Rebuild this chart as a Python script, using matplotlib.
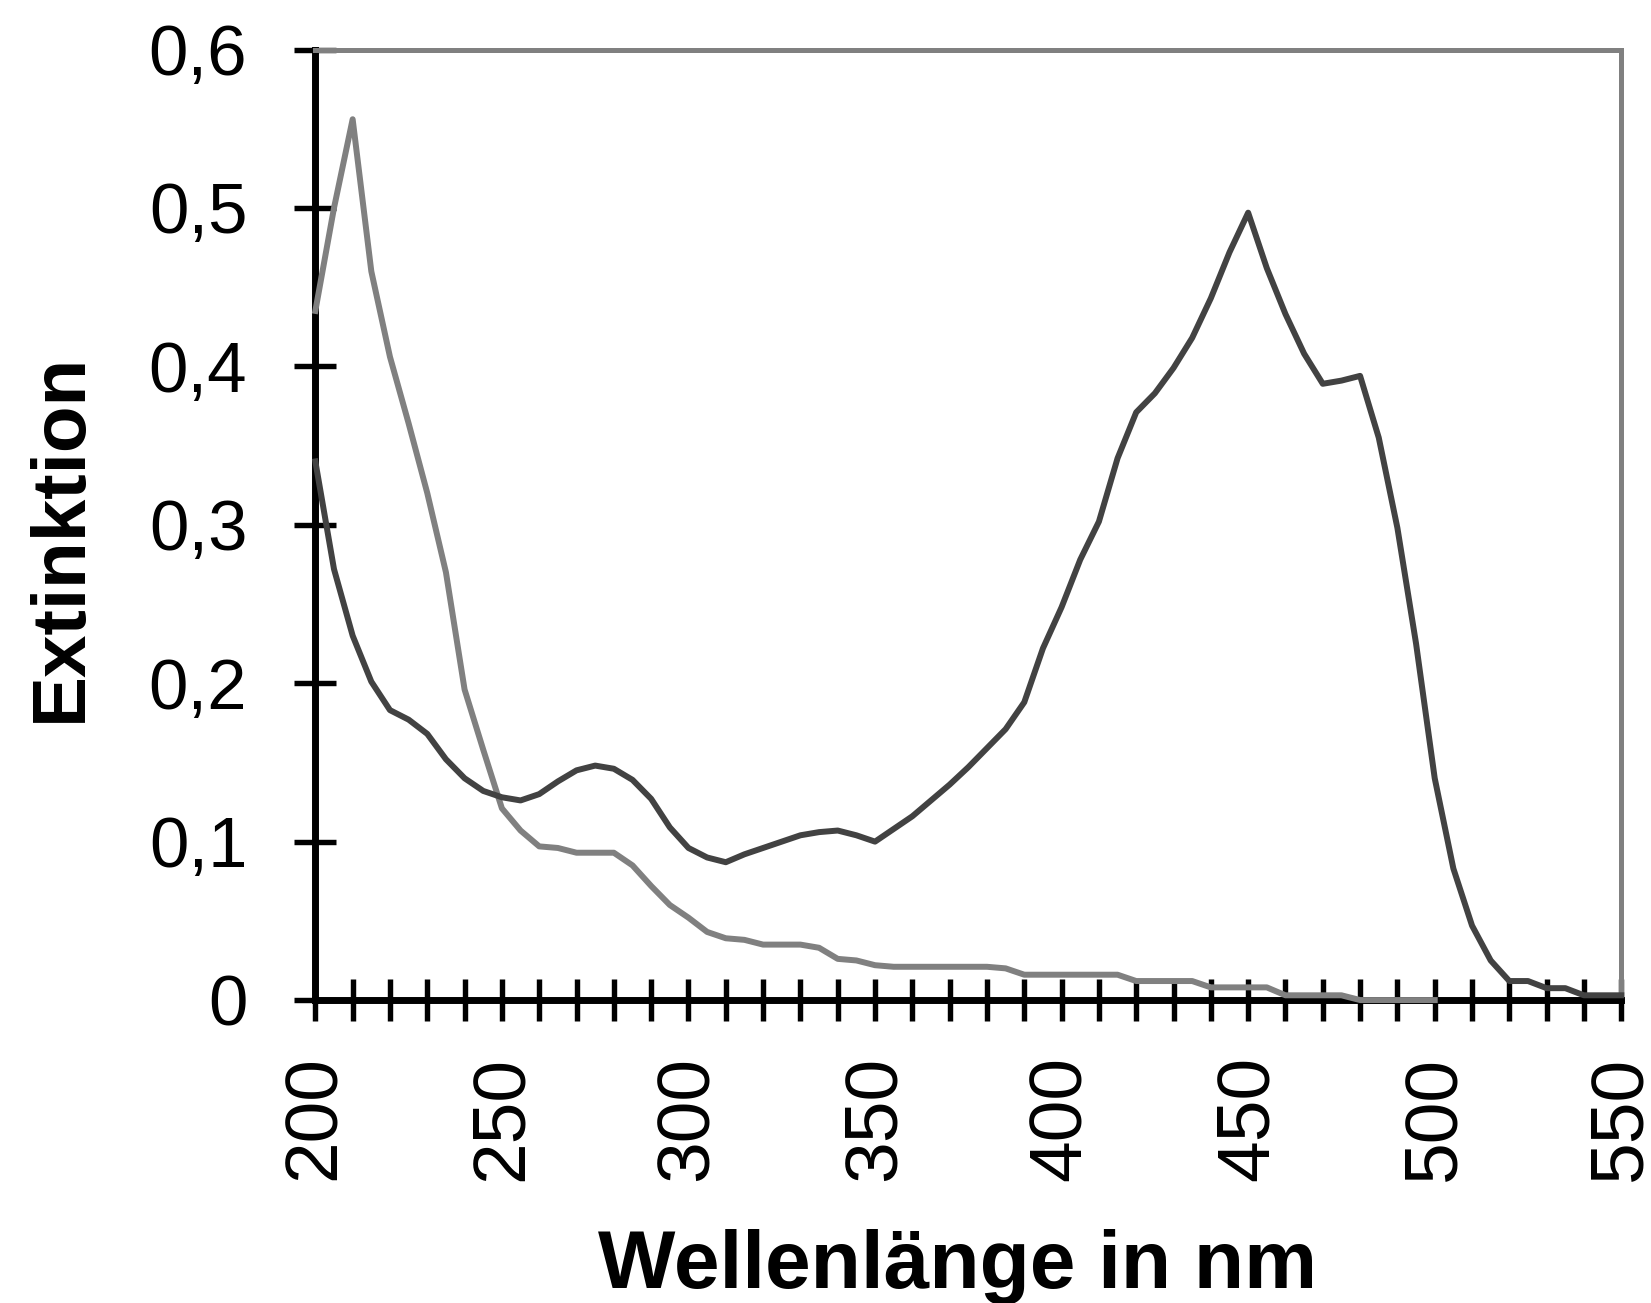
import numpy as np
import matplotlib
matplotlib.use("Agg")
import matplotlib.pyplot as plt

plt.rcParams['font.family'] = ['Liberation Sans', 'DejaVu Sans']

# wavelength grid (nm)
wavelength = list(range(200, 555, 5))

# dark curve: Extinktion per wavelength
dark_values = [0.340, 0.272, 0.230, 0.201, 0.183, 0.177, 0.168, 0.152, 0.140, 0.132,
               0.128, 0.126, 0.130, 0.138, 0.145, 0.148, 0.146, 0.139, 0.127, 0.109,
               0.096, 0.090, 0.087, 0.092, 0.096, 0.100, 0.104, 0.106, 0.107, 0.104,
               0.100, 0.108, 0.116, 0.126, 0.136, 0.147, 0.159, 0.171, 0.188, 0.222,
               0.248, 0.278, 0.302, 0.342, 0.371, 0.383, 0.399, 0.418, 0.443, 0.472,
               0.497, 0.462, 0.433, 0.408, 0.389, 0.391, 0.394, 0.355, 0.298, 0.225,
               0.140, 0.083, 0.047, 0.025, 0.012, 0.012, 0.0075, 0.0075, 0.003, 0.003,
               0.003]

# light curve, ends at 500 nm
gray_wavelength = list(range(200, 505, 5))
gray_values = [0.435, 0.500, 0.556, 0.460, 0.406, 0.364, 0.320, 0.270, 0.196, 0.158,
               0.121, 0.107, 0.097, 0.096, 0.093, 0.093, 0.093, 0.085, 0.072, 0.060,
               0.052, 0.043, 0.039, 0.038, 0.035, 0.035, 0.035, 0.033, 0.026, 0.025,
               0.022, 0.021, 0.021, 0.021, 0.021, 0.021, 0.021, 0.020, 0.016, 0.016,
               0.016, 0.016, 0.016, 0.016, 0.012, 0.012, 0.012, 0.012, 0.008, 0.008,
               0.008, 0.008, 0.003, 0.003, 0.003, 0.003, 0.0, 0.0, 0.0, 0.0,
               0.0]

y_ticks = [0, 0.1, 0.2, 0.3, 0.4, 0.5, 0.6]
y_labels = ['0', '0,1', '0,2', '0,3', '0,4', '0,5', '0,6']
x_label_ticks = list(range(200, 551, 50))

fig = plt.figure(figsize=(16.51, 13.03), dpi=100)
ax = fig.add_axes([0.191, 0.2325, 0.791, 0.7295])

ax.plot(gray_wavelength, gray_values, color='#808080', lw=4.3, zorder=3, clip_on=False)
ax.plot(wavelength, dark_values, color='#424242', lw=4.3, zorder=3, clip_on=False)

ax.set_xlim(200, 550)
ax.set_ylim(0, 0.6)

# spines: black left/bottom, grey frame top/right
for side in ['left', 'bottom']:
    ax.spines[side].set_color('black')
    ax.spines[side].set_linewidth(5)
for side in ['top', 'right']:
    ax.spines[side].set_color('#808080')
    ax.spines[side].set_linewidth(3.6)

ax.set_yticks(y_ticks)
ax.set_yticklabels(y_labels)
ax.set_xticks(list(range(200, 551, 10)))
ax.set_xticklabels([str(v) if v in x_label_ticks else '' for v in range(200, 551, 10)],
                   rotation=90)

ax.tick_params(axis='y', direction='inout', length=30, width=3.9, pad=34, labelsize=51)
ax.tick_params(axis='x', direction='inout', length=30, width=3.9, pad=25, labelsize=54)

fig.text(0.580, 0.0115, 'Wellenlänge in nm', fontsize=59, fontweight='bold',
         ha='center', va='baseline')
fig.text(0.049, 0.5875, 'Extinktion', fontsize=55, fontweight='bold',
         rotation=90, rotation_mode='anchor', ha='center', va='baseline')

plt.savefig('out.png', dpi=100)
